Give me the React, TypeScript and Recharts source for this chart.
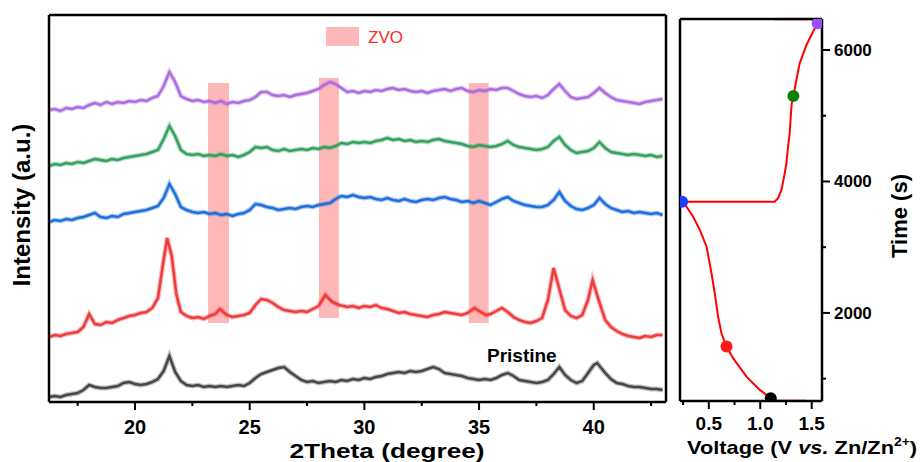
import { LineChart, Line, XAxis, YAxis, ReferenceArea, ComposedChart, Scatter, Cell } from 'recharts';

// XRD scans: [2theta (deg), intensity (a.u., stacked offsets)]
const purpleScan: [number, number][] = [
  [16.25, 292], [16.5, 293], [16.75, 291], [17.0, 294],
  [17.25, 293], [17.5, 295], [17.75, 294], [18.0, 297],
  [18.25, 299], [18.5, 297], [18.75, 300], [19.0, 298],
  [19.25, 300], [19.5, 299], [19.75, 301], [20.0, 300],
  [20.25, 302], [20.5, 301], [20.75, 304], [21.0, 306],
  [21.25, 316], [21.5, 330], [21.75, 320], [22.0, 306],
  [22.25, 303], [22.5, 301], [22.75, 302], [23.0, 300],
  [23.25, 301], [23.5, 299], [23.75, 301], [24.0, 298],
  [24.25, 300], [24.5, 299], [24.75, 301], [25.0, 302],
  [25.25, 305], [25.5, 310], [25.75, 310], [26.0, 307],
  [26.25, 306], [26.5, 307], [26.75, 305], [27.0, 307],
  [27.25, 308], [27.5, 309], [27.75, 311], [28.0, 313],
  [28.25, 317], [28.5, 320], [28.75, 318], [29.0, 314],
  [29.25, 310], [29.5, 311], [29.75, 309], [30.0, 311],
  [30.25, 310], [30.5, 312], [30.75, 311], [31.0, 313],
  [31.25, 314], [31.5, 312], [31.75, 313], [32.0, 311],
  [32.25, 310], [32.5, 311], [32.75, 309], [33.0, 311],
  [33.25, 312], [33.5, 313], [33.75, 311], [34.0, 313],
  [34.25, 314], [34.5, 311], [34.75, 310], [35.0, 312],
  [35.25, 311], [35.5, 313], [35.75, 312], [36.0, 314],
  [36.25, 314], [36.5, 311], [36.75, 308], [37.0, 306],
  [37.25, 305], [37.5, 306], [37.75, 304], [38.0, 307],
  [38.25, 313], [38.5, 318], [38.75, 311], [39.0, 305],
  [39.25, 303], [39.5, 304], [39.75, 305], [40.0, 309],
  [40.25, 314], [40.5, 309], [40.75, 305], [41.0, 302],
  [41.25, 301], [41.5, 300], [41.75, 299], [42.0, 298],
  [42.25, 300], [42.5, 301], [42.75, 302], [43.0, 303],
];

const greenScan: [number, number][] = [
  [16.25, 236], [16.5, 238], [16.75, 237], [17.0, 239],
  [17.25, 238], [17.5, 240], [17.75, 239], [18.0, 241],
  [18.25, 243], [18.5, 242], [18.75, 241], [19.0, 243],
  [19.25, 242], [19.5, 244], [19.75, 245], [20.0, 246],
  [20.25, 247], [20.5, 248], [20.75, 250], [21.0, 252],
  [21.25, 263], [21.5, 276], [21.75, 266], [22.0, 252],
  [22.25, 248], [22.5, 247], [22.75, 248], [23.0, 246],
  [23.25, 247], [23.5, 246], [23.75, 248], [24.0, 246],
  [24.25, 247], [24.5, 245], [24.75, 247], [25.0, 250],
  [25.25, 255], [25.5, 254], [25.75, 255], [26.0, 252],
  [26.25, 251], [26.5, 253], [26.75, 251], [27.0, 252],
  [27.25, 253], [27.5, 252], [27.75, 254], [28.0, 253],
  [28.25, 255], [28.5, 254], [28.75, 256], [29.0, 259],
  [29.25, 258], [29.5, 260], [29.75, 259], [30.0, 260],
  [30.25, 259], [30.5, 261], [30.75, 262], [31.0, 264],
  [31.25, 262], [31.5, 263], [31.75, 261], [32.0, 262],
  [32.25, 260], [32.5, 261], [32.75, 260], [33.0, 262],
  [33.25, 263], [33.5, 261], [33.75, 260], [34.0, 259],
  [34.25, 258], [34.5, 256], [34.75, 255], [35.0, 257],
  [35.25, 256], [35.5, 255], [35.75, 256], [36.0, 258],
  [36.25, 261], [36.5, 257], [36.75, 255], [37.0, 254],
  [37.25, 253], [37.5, 252], [37.75, 253], [38.0, 255],
  [38.25, 261], [38.5, 265], [38.75, 257], [39.0, 252],
  [39.25, 249], [39.5, 250], [39.75, 251], [40.0, 254],
  [40.25, 260], [40.5, 254], [40.75, 250], [41.0, 249],
  [41.25, 248], [41.5, 247], [41.75, 248], [42.0, 247],
  [42.25, 246], [42.5, 247], [42.75, 245], [43.0, 246],
];

const blueScan: [number, number][] = [
  [16.25, 180], [16.5, 182], [16.75, 181], [17.0, 183],
  [17.25, 182], [17.5, 184], [17.75, 185], [18.0, 187],
  [18.25, 189], [18.5, 185], [18.75, 184], [19.0, 186],
  [19.25, 185], [19.5, 188], [19.75, 189], [20.0, 190],
  [20.25, 191], [20.5, 192], [20.75, 194], [21.0, 196],
  [21.25, 204], [21.5, 218], [21.75, 208], [22.0, 195],
  [22.25, 192], [22.5, 190], [22.75, 189], [23.0, 190],
  [23.25, 188], [23.5, 189], [23.75, 187], [24.0, 188],
  [24.25, 186], [24.5, 188], [24.75, 189], [25.0, 192],
  [25.25, 198], [25.5, 197], [25.75, 195], [26.0, 194],
  [26.25, 192], [26.5, 193], [26.75, 194], [27.0, 193],
  [27.25, 195], [27.5, 196], [27.75, 195], [28.0, 197],
  [28.25, 198], [28.5, 199], [28.75, 203], [29.0, 206],
  [29.25, 205], [29.5, 207], [29.75, 205], [30.0, 204],
  [30.25, 205], [30.5, 203], [30.75, 202], [31.0, 204],
  [31.25, 202], [31.5, 201], [31.75, 203], [32.0, 201],
  [32.25, 200], [32.5, 202], [32.75, 203], [33.0, 202],
  [33.25, 204], [33.5, 205], [33.75, 203], [34.0, 202],
  [34.25, 200], [34.5, 201], [34.75, 199], [35.0, 201],
  [35.25, 199], [35.5, 197], [35.75, 200], [36.0, 203],
  [36.25, 205], [36.5, 201], [36.75, 199], [37.0, 197],
  [37.25, 196], [37.5, 195], [37.75, 195], [38.0, 197],
  [38.25, 202], [38.5, 210], [38.75, 201], [39.0, 196],
  [39.25, 193], [39.5, 192], [39.75, 194], [40.0, 197],
  [40.25, 204], [40.5, 198], [40.75, 194], [41.0, 192],
  [41.25, 190], [41.5, 191], [41.75, 189], [42.0, 190],
  [42.25, 189], [42.5, 188], [42.75, 189], [43.0, 187],
];

const redScan: [number, number][] = [
  [16.25, 65], [16.5, 67], [16.75, 66], [17.0, 68],
  [17.25, 69], [17.5, 70], [17.75, 75], [18.0, 88],
  [18.25, 78], [18.5, 77], [18.75, 80], [19.0, 79],
  [19.25, 82], [19.5, 84], [19.75, 86], [20.0, 87],
  [20.25, 89], [20.5, 90], [20.75, 94], [21.0, 104],
  [21.2, 135], [21.4, 164], [21.6, 146], [21.8, 108],
  [22.0, 90], [22.25, 86], [22.5, 84], [22.75, 85],
  [23.0, 83], [23.25, 86], [23.5, 88], [23.7, 93],
  [24.0, 87], [24.25, 85], [24.5, 86], [24.75, 87],
  [25.0, 89], [25.25, 97], [25.5, 103], [25.75, 102],
  [26.0, 99], [26.25, 95], [26.5, 92], [26.75, 91],
  [27.0, 90], [27.25, 91], [27.5, 90], [27.75, 93],
  [28.0, 96], [28.3, 107], [28.6, 100], [28.9, 97],
  [29.25, 95], [29.5, 96], [29.75, 94], [30.0, 96],
  [30.25, 95], [30.5, 97], [30.75, 94], [31.0, 93],
  [31.25, 91], [31.5, 89], [31.75, 90], [32.0, 88],
  [32.25, 87], [32.5, 86], [32.75, 85], [33.0, 87],
  [33.25, 88], [33.5, 90], [33.75, 89], [34.0, 88],
  [34.25, 87], [34.5, 89], [34.8, 94], [35.0, 91],
  [35.3, 87], [35.5, 88], [35.75, 91], [36.0, 94],
  [36.25, 90], [36.5, 85], [36.75, 82], [37.0, 80],
  [37.25, 79], [37.5, 81], [37.75, 84], [38.0, 102],
  [38.25, 134], [38.5, 113], [38.75, 92], [39.0, 86],
  [39.25, 84], [39.5, 87], [39.75, 102], [39.95, 122],
  [40.2, 103], [40.5, 82], [40.75, 75], [41.0, 71],
  [41.25, 68], [41.5, 66], [41.75, 65], [42.0, 64],
  [42.25, 66], [42.5, 65], [42.75, 67], [43.0, 67],
];

const pristineScan: [number, number][] = [
  [16.25, 5], [16.5, 6], [16.75, 5], [17.0, 7],
  [17.25, 8], [17.5, 9], [17.75, 12], [18.0, 17],
  [18.25, 15], [18.5, 14], [18.75, 14], [19.0, 15],
  [19.25, 16], [19.5, 19], [19.75, 20], [20.0, 18],
  [20.25, 17], [20.5, 18], [20.75, 20], [21.0, 23],
  [21.25, 31], [21.5, 46], [21.75, 30], [22.0, 21],
  [22.25, 17], [22.5, 16], [22.75, 17], [23.0, 15],
  [23.25, 16], [23.5, 15], [23.75, 16], [24.0, 15],
  [24.25, 16], [24.5, 17], [24.75, 16], [25.0, 19],
  [25.25, 24], [25.5, 28], [25.75, 30], [26.0, 32],
  [26.25, 34], [26.5, 35], [26.75, 30], [27.0, 26],
  [27.25, 22], [27.5, 20], [27.75, 21], [28.0, 19],
  [28.25, 20], [28.5, 21], [28.75, 20], [29.0, 22],
  [29.25, 21], [29.5, 23], [29.75, 22], [30.0, 24],
  [30.25, 23], [30.5, 25], [30.75, 26], [31.0, 28],
  [31.25, 29], [31.5, 30], [31.75, 29], [32.0, 31],
  [32.25, 30], [32.5, 31], [32.75, 33], [33.0, 35],
  [33.25, 33], [33.5, 29], [33.75, 28], [34.0, 27],
  [34.25, 26], [34.5, 24], [34.75, 23], [35.0, 22],
  [35.25, 23], [35.5, 22], [35.75, 24], [36.0, 27],
  [36.25, 29], [36.5, 26], [36.75, 22], [37.0, 21],
  [37.25, 20], [37.5, 19], [37.75, 20], [38.0, 22],
  [38.25, 28], [38.5, 35], [38.75, 27], [39.0, 22],
  [39.25, 19], [39.5, 21], [39.75, 29], [40.0, 37],
  [40.15, 39], [40.5, 29], [40.75, 23], [41.0, 19],
  [41.25, 18], [41.5, 16], [41.75, 15], [42.0, 15],
  [42.25, 14], [42.5, 13], [42.75, 13], [43.0, 12],
];

// ZVO reference positions: [from 2theta, to 2theta, bottom, top]
const zvoBands: [number, number, number, number][] = [
  [23.18, 24.1, 79, 319],
  [28.02, 28.89, 84, 324],
  [34.55, 35.42, 79, 319],
];

const twoThetaTicks = [17.5, 20, 22.5, 25, 27.5, 30, 32.5, 35, 37.5, 40, 42.5];

// charge/discharge profile
const voltage = [1.44, 1.12, 1.102, 0.995, 0.866, 0.736, 0.672, 0.623, 0.59, 0.558, 0.526, 0.478, 0.413, 0.348, 0.283, 0.241,
  1.14, 1.173, 1.206, 1.238, 1.254, 1.27, 1.286, 1.296, 1.306, 1.322, 1.351, 1.383, 1.449, 1.513, 1.558, 1.59, 1.14];
const time = [663, 663, 703, 829, 1031, 1311, 1488, 1691, 1944, 2300, 2604, 3008, 3262, 3465, 3617, 3693,
  3693, 3745, 3871, 4125, 4277, 4530, 4733, 4986, 5189, 5300, 5544, 5798, 6077, 6279, 6406, 6470, 6470];

// points where the XRD scans were taken
const stateVoltage = [1.102, 0.672, 0.241, 1.322, 1.558];
const stateTime = [703, 1488, 3693, 5300, 6406];
const stateColors = ['#000000', '#ff1a1a', '#1f3fff', '#0a800a', '#9b4dff'];

const voltageTicks = [0.25, 0.5, 0.75, 1.0, 1.25, 1.5];
const timeTicks = [1000, 2000, 3000, 4000, 5000, 6000];

const scans = [
  { name: 'purple', data: purpleScan, color: '#ac6ddf' },
  { name: 'green', data: greenScan, color: '#35a05f' },
  { name: 'blue', data: blueScan, color: '#1e6edc' },
  { name: 'red', data: redScan, color: '#ef3b3b' },
  { name: 'pristine', data: pristineScan, color: '#474747' },
];

const font = 'Arial, "Liberation Sans", sans-serif';
const border = { stroke: '#000', strokeWidth: 2.5 };

const ThetaTick = (props: any) => {
  const { x, y, payload } = props;
  const major = payload.value % 5 === 0;
  return (
    <g>
      <line x1={x} x2={x} y1={y} y2={y + (major ? 8 : 4)} stroke="#000" strokeWidth={2} />
      {major && (
        <text x={x} y={y + 32} textAnchor="middle" fontSize={20} fontWeight="bold" fontFamily={font} fill="#000">
          {payload.value}
        </text>
      )}
    </g>
  );
};

const VoltTick = (props: any) => {
  const { x, y, payload } = props;
  const major = Math.round(payload.value * 100) % 50 === 0;
  return (
    <g>
      <line x1={x} x2={x} y1={y} y2={y + (major ? 8 : 4)} stroke="#000" strokeWidth={2} />
      {major && (
        <text x={x} y={y + 29} textAnchor="middle" fontSize={19} fontWeight="bold" fontFamily={font} fill="#000">
          {payload.value.toFixed(1)}
        </text>
      )}
    </g>
  );
};

const TimeTick = (props: any) => {
  const { x, y, payload } = props;
  const major = payload.value % 2000 === 0;
  return (
    <g>
      <line x1={x} x2={x + (major ? 8 : 4)} y1={y} y2={y} stroke="#000" strokeWidth={2} />
      {major && (
        <text x={x + 12} y={y + 6} textAnchor="start" fontSize={17} fontWeight="bold" fontFamily={font} fill="#000">
          {payload.value}
        </text>
      )}
    </g>
  );
};

function XrdPanel() {
  return (
    <LineChart width={680} height={462} margin={{ top: 14, right: 13, bottom: 30, left: 48 }}>
      <XAxis xAxisId="b" dataKey="x" type="number" domain={[16.25, 43.15]} ticks={twoThetaTicks} interval={0}
        tick={<ThetaTick />} tickLine={false} tickSize={0} tickMargin={0} height={30}
        axisLine={border} allowDataOverflow />
      <XAxis xAxisId="t" orientation="top" dataKey="x" type="number" domain={[16.25, 43.15]} tick={false}
        tickLine={false} height={1} axisLine={border} allowDataOverflow />
      <YAxis yAxisId="l" type="number" domain={[0, 387]} tick={false} tickLine={false} width={1}
        axisLine={border} allowDataOverflow />
      <YAxis yAxisId="r" orientation="right" type="number" domain={[0, 387]} tick={false} tickLine={false} width={1}
        axisLine={border} allowDataOverflow />
      {scans.map(s => (
        <Line key={s.name + '-halo'} xAxisId="b" yAxisId="l" data={s.data.map(([x, y]) => ({ x, y }))} dataKey="y"
          stroke={s.color} strokeWidth={5} strokeOpacity={0.35} dot={false} isAnimationActive={false} type="linear" />
      ))}
      {scans.map(s => (
        <Line key={s.name} xAxisId="b" yAxisId="l" data={s.data.map(([x, y]) => ({ x, y }))} dataKey="y"
          stroke={s.color} strokeWidth={2.5} dot={false} isAnimationActive={false} type="linear" />
      ))}
      {zvoBands.map(([a, b, lo, hi], i) => (
        <ReferenceArea key={i} xAxisId="b" yAxisId="l" x1={a} x2={b} y1={lo} y2={hi}
          fill="#ff6b6b" fillOpacity={0.48} stroke="none" />
      ))}
    </LineChart>
  );
}

function ProfilePanel() {
  const profile = voltage.map((v, i) => ({ v, t: time[i] }));
  const states = stateVoltage.map((v, i) => ({ v, t: stateTime[i] }));
  return (
    <ComposedChart width={281} height={462} margin={{ top: 18, right: 39, bottom: 31, left: 39 }}>
      <XAxis xAxisId="b" dataKey="v" type="number" domain={[0.22, 1.6]} ticks={voltageTicks} interval={0}
        tick={<VoltTick />} tickLine={false} tickSize={0} tickMargin={0} height={30}
        axisLine={border} allowDataOverflow />
      <XAxis xAxisId="t" orientation="top" dataKey="v" type="number" domain={[0.22, 1.6]} tick={false}
        tickLine={false} height={1} axisLine={border} allowDataOverflow />
      <YAxis yAxisId="r" orientation="right" dataKey="t" type="number" domain={[660, 6472]} ticks={timeTicks}
        interval={0} tick={<TimeTick />} tickLine={false} tickSize={0} tickMargin={0} width={60}
        axisLine={border} allowDataOverflow />
      <YAxis yAxisId="l" dataKey="t" type="number" domain={[660, 6472]} tick={false} tickLine={false} width={1}
        axisLine={border} allowDataOverflow />
      <Line xAxisId="b" yAxisId="r" data={profile} dataKey="t" stroke="#ff0000" strokeWidth={2}
        dot={false} isAnimationActive={false} type="linear" />
      <Scatter xAxisId="b" yAxisId="r" data={states} dataKey="t" isAnimationActive={false}
        shape={(p: any) => <circle cx={p.cx} cy={p.cy} r={6} fill={p.fill} />}>
        {states.map((_, i) => <Cell key={i} fill={stateColors[i]} />)}
      </Scatter>
    </ComposedChart>
  );
}

export default function App() {
  return (
    <div style={{ position: 'absolute', left: 0, top: 0, width: 921, height: 462, background: '#fff' }}>
      <div style={{ position: 'absolute', left: 0, top: 0 }}>
        <XrdPanel />
      </div>
      <div style={{ position: 'absolute', left: 640, top: 0 }}>
        <ProfilePanel />
      </div>
      <svg width={921} height={462} style={{ position: 'absolute', left: 0, top: 0, pointerEvents: 'none' }}
        fontFamily={font}>
        <text transform="translate(30, 205) rotate(-90)" textAnchor="middle" fontSize={24} fontWeight="bold" fill="#000">
          Intensity (a.u.)
        </text>
        <text x={387} y={458} textAnchor="middle" fontSize={21} fontWeight="bold" fill="#000"
          textLength={195} lengthAdjust="spacingAndGlyphs">2Theta (degree)</text>
        <rect x={326} y={27} width={33} height={19} fill="#ff6b6b" fillOpacity={0.48} />
        <text x={368} y={43} fontSize={17} fill="#ff2a2a">ZVO</text>
        <text x={487} y={362} fontSize={19} fontWeight="bold" fill="#000">Pristine</text>
        <text transform="translate(907, 216) rotate(-90)" textAnchor="middle" fontSize={22} fontWeight="bold" fill="#000">
          Time (s)
        </text>
        <text x={802} y={454} textAnchor="middle" fontSize={19} fontWeight="bold" fill="#000"
          textLength={230} lengthAdjust="spacingAndGlyphs">
          Voltage (V <tspan fontStyle="italic">vs.</tspan> Zn/Zn<tspan fontSize={12} dy={-8}>2+</tspan><tspan dy={8}>)</tspan>
        </text>
      </svg>
    </div>
  );
}
